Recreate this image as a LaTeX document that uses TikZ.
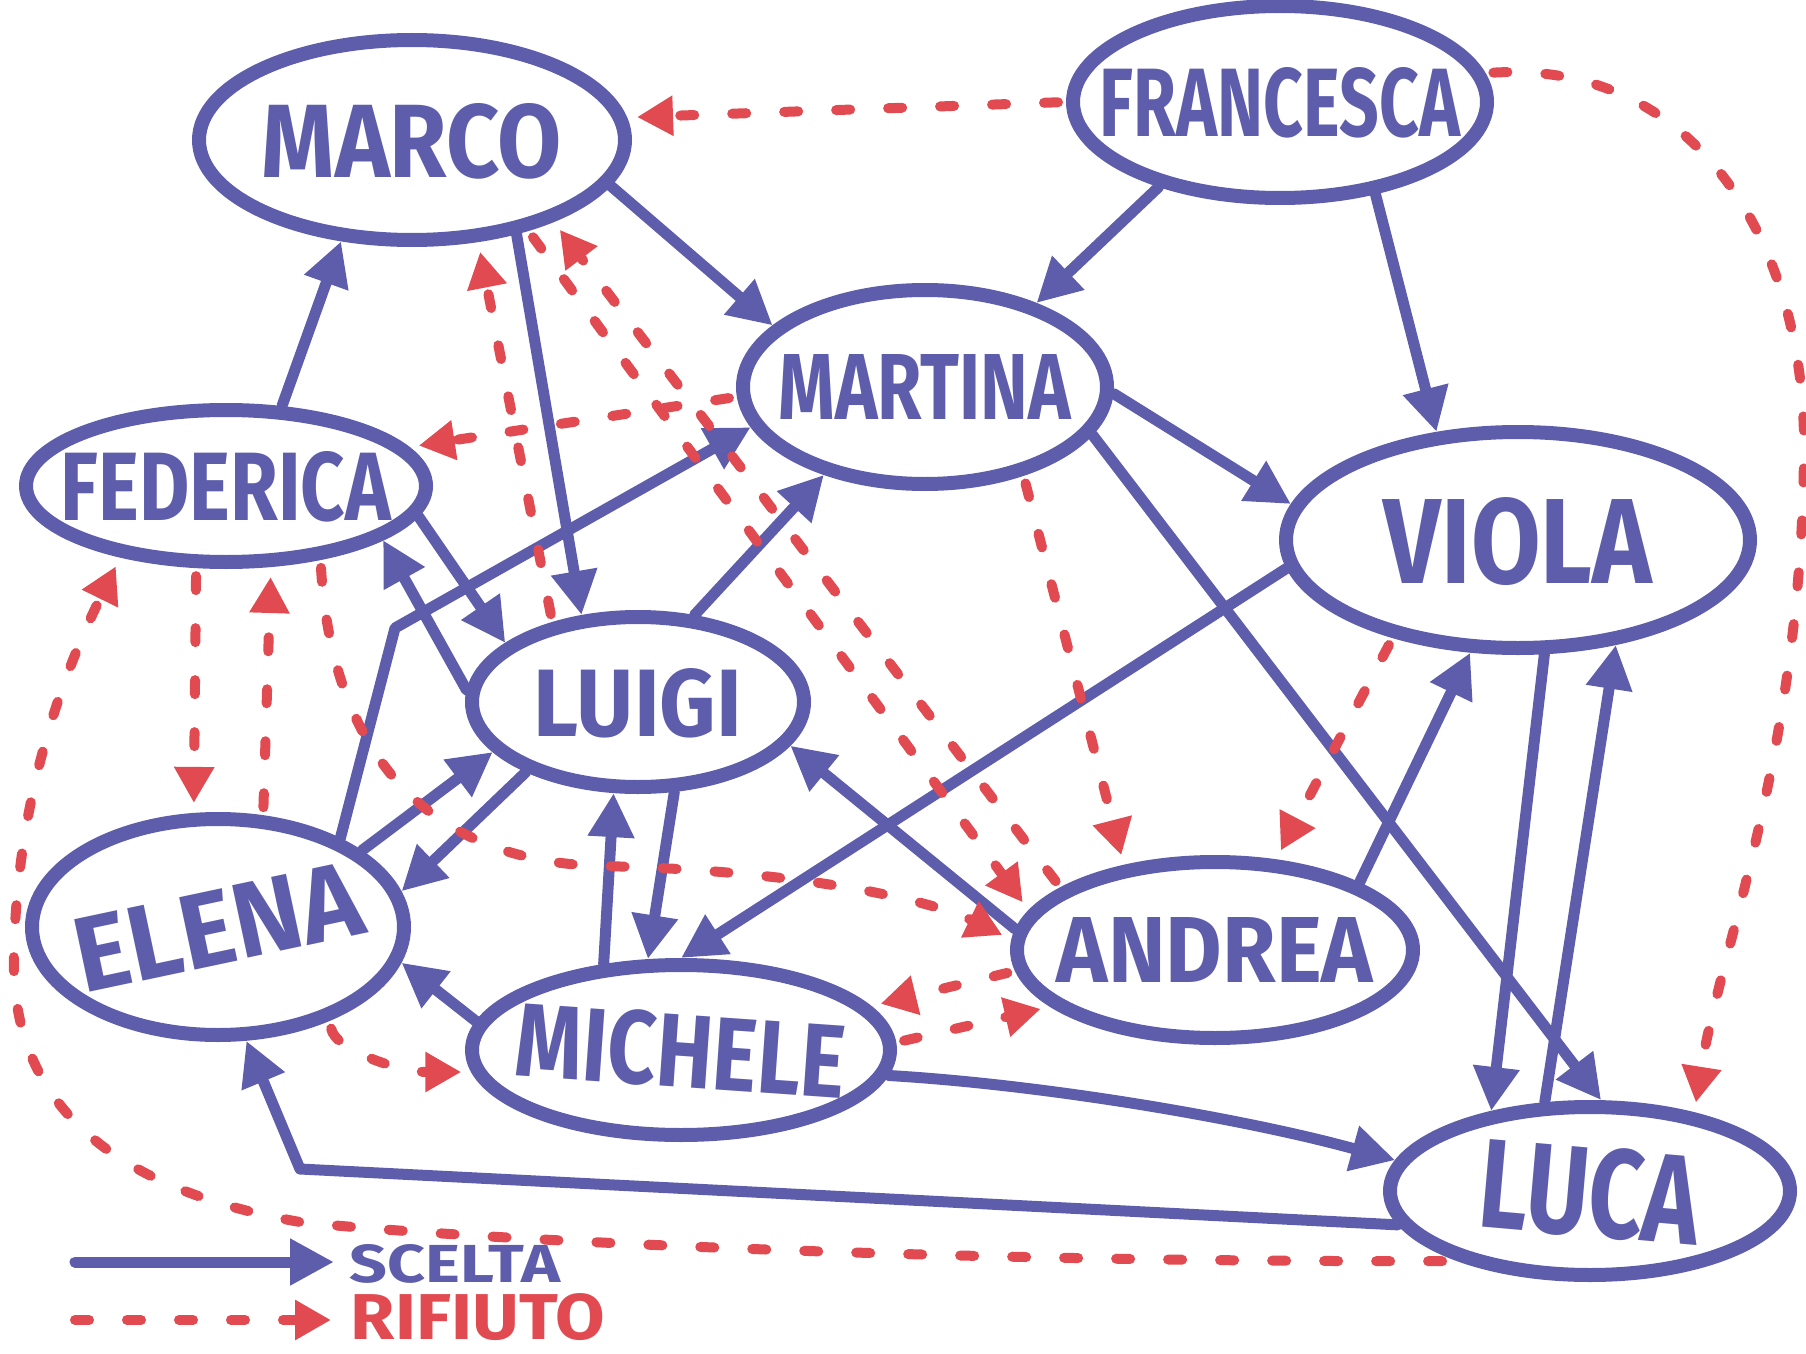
\documentclass[tikz,border=0pt]{standalone}
\usepackage{fontspec}
\setmainfont{Fira Sans}
\usepackage{graphicx}
\usetikzlibrary{shapes.geometric,arrows.meta}
\definecolor{mblue}{RGB}{93,93,172}
\definecolor{mred}{RGB}{224,74,80}
\newcommand{\mylbl}[4][0]{\makebox[0pt]{\raisebox{0pt}[0pt][0pt]{\rotatebox[origin=c]{#1}{\raisebox{-.5\height}{\resizebox{#2}{#3}{\bfseries #4}}}}}}
\tikzset{
  person/.style={ellipse, draw=mblue, line width=7pt, inner sep=0pt, text=mblue},
  choice/.style={draw=mblue, line width=5.5pt, line cap=round, line join=round, -{Triangle[length=22pt,width=22pt]}},
  rej/.style={draw=mred, line width=5pt, line cap=round, dash pattern=on 7pt off 19pt, shorten >=5pt, shorten <=4pt, -{Triangle[length=18pt,width=19pt]}}
}
\begin{document}
\begin{tikzpicture}[x=0.5pt,y=-0.5pt]
\useasboundingbox (0,0) rectangle (1806,1354);
% nodes
\node[person, minimum width=213pt, minimum height=100pt] (marco) at (412,140) {\mylbl{150pt}{37pt}{MARCO}};
\node[person, minimum width=207pt, minimum height=96pt] (francesca) at (1280,102) {\mylbl{180pt}{34.5pt}{FRANCESCA}};
\node[person, minimum width=182pt, minimum height=97pt] (martina) at (925,387) {\mylbl{146pt}{32.5pt}{MARTINA}};
\node[person, minimum width=200pt, minimum height=76pt] (federica) at (226,486) {\mylbl{165pt}{34.5pt}{FEDERICA}};
\node[person, minimum width=232pt, minimum height=108pt] (viola) at (1518,540) {\mylbl{134pt}{43pt}{VIOLA}};
\node[person, minimum width=166pt, minimum height=85pt] (luigi) at (638,702) {\mylbl{104pt}{34pt}{LUIGI}};
\node[person, minimum width=186pt, minimum height=108pt] (elena) at (218,927) {\mylbl[12]{145pt}{37pt}{ELENA}};
\node[person, minimum width=198pt, minimum height=88pt] (andrea) at (1215,950) {\mylbl{158pt}{32.5pt}{ANDREA}};
\node[person, minimum width=209pt, minimum height=85pt] (michele) at (681,1050) {\mylbl[-4]{165pt}{37pt}{MICHELE}};
\node[person, minimum width=200pt, minimum height=84pt] (luca) at (1590,1191) {\mylbl[-5]{110pt}{45pt}{LUCA}};
% choices (solid)
\draw[choice] (francesca.215) -- (martina.37);
\draw[choice] (francesca.316) -- (viola.127);
\draw[choice] (marco.347) -- (martina.158);
\draw[choice] (marco.318) -- (luigi.123);
\draw[choice] (federica.55) -- (marco.235);
\draw[choice] (martina.358) -- (viola.171);
\draw[choice] (martina.344) -- (luca.83);
\draw[choice] (luigi.57) -- (martina.221);
\draw[choice] (elena.36) -- (395,628) -- (martina.193);
\draw[choice] (federica.351) -- (luigi.156);
\draw[choice] (luigi.176) -- (federica.341);
\draw[choice] (elena.28) -- (luigi.199);
\draw[choice] (luigi.212) -- (elena.11);
\draw[choice] (luigi.292) -- (michele.110);
\draw[choice] (michele.132) -- (luigi.255);
\draw[choice] (michele.172) -- (elena.349);
\draw[choice] (viola.187) -- (michele.90);
\draw[choice] (andrea.25) -- (viola.247);
\draw[choice] (andrea.174) -- (luigi.344);
\draw[choice] (michele.353) .. controls (1050,1085) and (1250,1120) .. (luca.171);
\draw[choice] (luca.190) -- (300,1169) -- (elena.284);
\draw[choice] (viola.283) -- (luca.141);
\draw[choice] (luca.117) -- (viola.313);
% rejections (dashed)
\draw[rej] (francesca.180) -- (marco.6);
\draw[rej] (francesca.8) .. controls (1700,60) and (1806,250) .. (1804,450) .. controls (1802,750) and (1720,950) .. (luca.37);
\draw[rej] (martina.183) -- (federica.12);
\draw[rej] (martina.318) -- (andrea.137);
\draw[rej] (luigi.137) -- (marco.303);
\draw[rej] (andrea.158) -- (marco.330);
\draw[rej] (marco.322) -- (andrea.168);
\draw[rej] (federica.250) -- (elena.102);
\draw[rej] (elena.68) -- (federica.299);
\draw[rej, shorten <=8pt] (luca.208) .. controls (900,1262) and (450,1238) .. (300,1222) .. controls (60,1180) and (10,1060) .. (14,950) .. controls (18,800) and (60,680) .. (federica.214);
\draw[rej] (federica.322) .. controls (330,720) and (400,860) .. (600,866) .. controls (800,870) and (930,900) .. (andrea.177);
\draw[rej] (elena.320) .. controls (335,1050) and (400,1072) .. (michele.186);
\draw[rej] (viola.218) -- (andrea.56);
\draw[rej] (andrea.186) -- (michele.13);
\draw[rej] (michele.2) -- (andrea.199);
% legend
\coordinate (s1) at (75,1262);
\coordinate (s2) at (334,1262);
\coordinate (r1) at (75,1320);
\coordinate (r2) at (331,1320);
\draw[choice] (s1) -- (s2);
\draw[rej, shorten >=0pt, shorten <=0pt] (r1) -- (r2);
\node[text=mblue, inner sep=0pt] (scelta) at (455,1263) {\mylbl{105pt}{19pt}{SCELTA}};
\node[text=mred, inner sep=0pt] (rifiuto) at (478,1316) {\mylbl{127pt}{23pt}{RIFIUTO}};
\end{tikzpicture}
\end{document}
